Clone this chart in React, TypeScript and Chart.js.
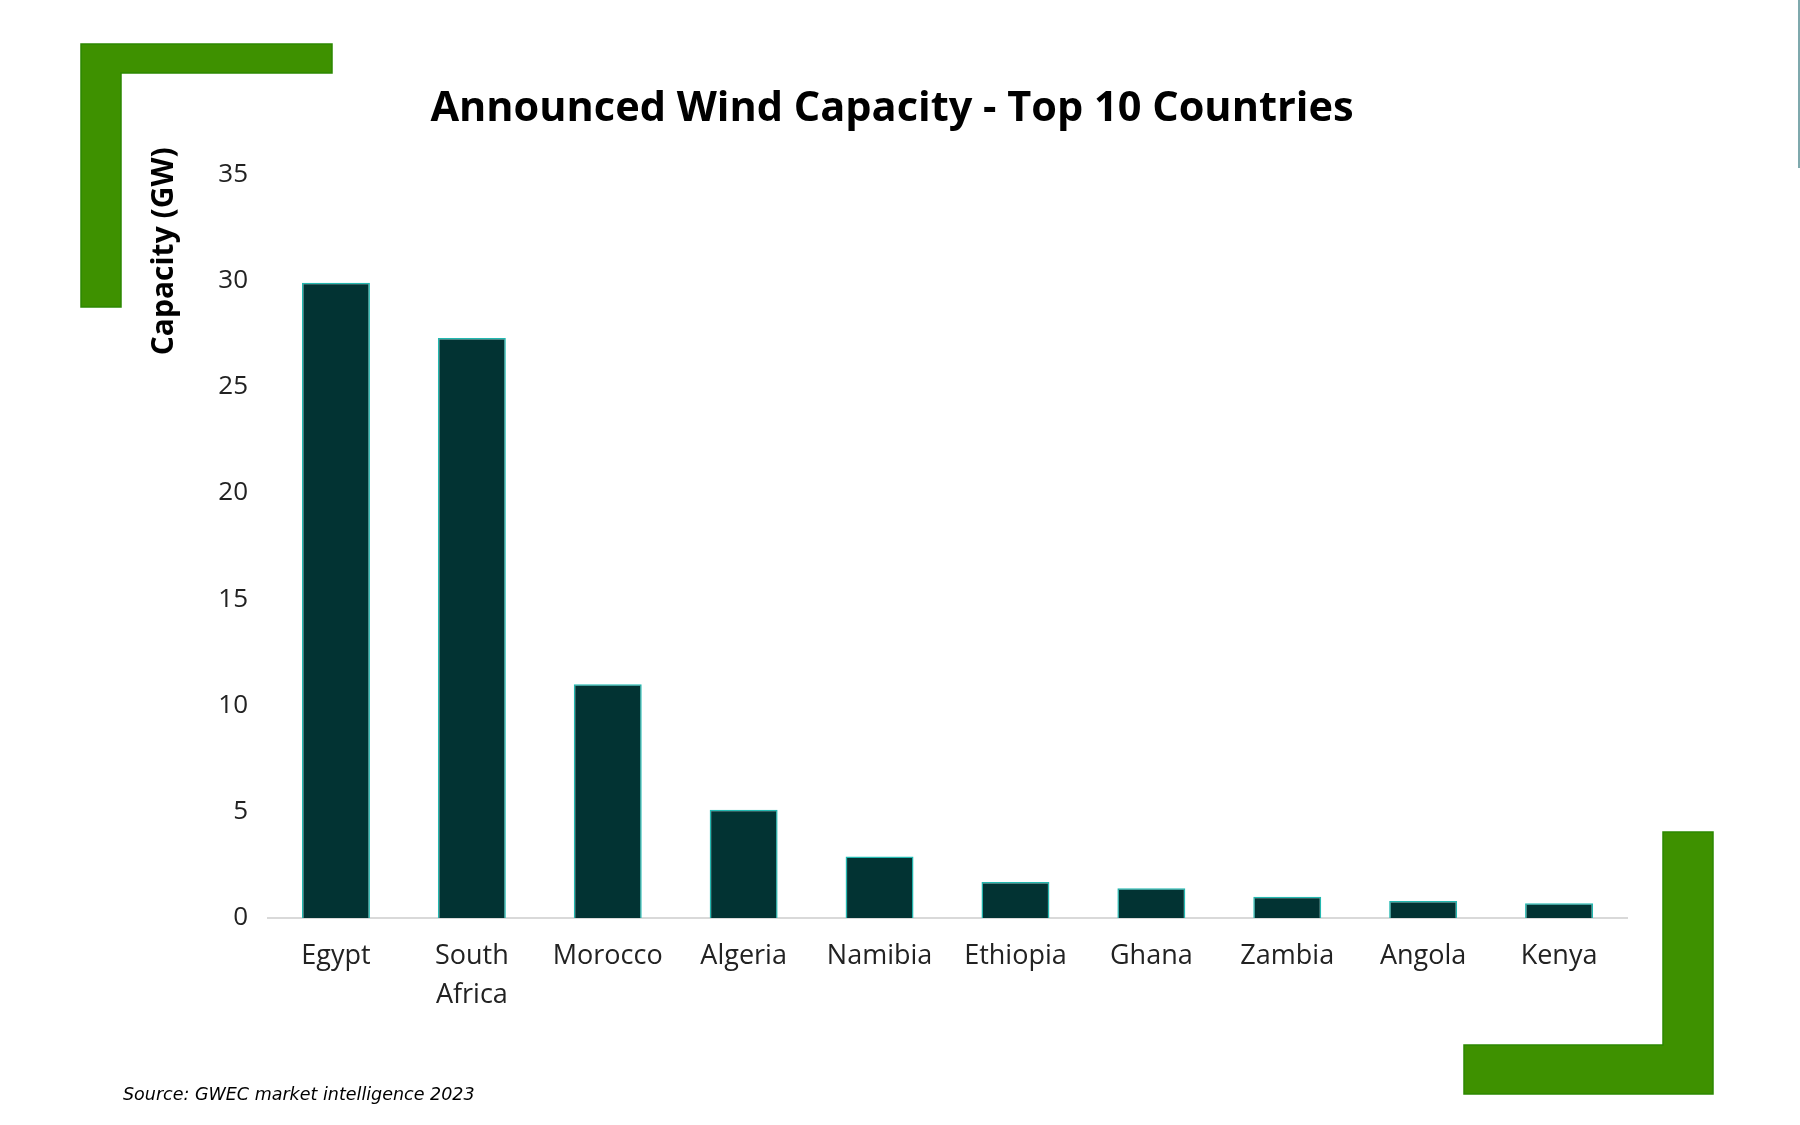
import React, { useEffect, useRef } from "react";
import { Chart, registerables } from "chart.js";

Chart.register(...registerables);

const TITLE = "Announced Wind Capacity - Top 10 Countries";
const Y_TITLE = "Capacity (GW)";
const SOURCE = "Source: GWEC market intelligence 2023";

const countries: (string | string[])[] = [
  "Egypt",
  ["South", "Africa"],
  "Morocco",
  "Algeria",
  "Namibia",
  "Ethiopia",
  "Ghana",
  "Zambia",
  "Angola",
  "Kenya",
];
const capacityGW = [29.9, 27.3, 11.0, 5.1, 2.9, 1.7, 1.4, 1.0, 0.8, 0.7];
const yMin = 0;
const yMax = 35;
const yStep = 5;

const FONT = '"Open Sans", sans-serif';
const SOURCE_FONT = '"DejaVu Sans", sans-serif';

const decorPlugin = {
  id: "decor",
  afterDraw(chart: any) {
    const ctx = chart.ctx as CanvasRenderingContext2D;
    const area = chart.chartArea;
    const poly = (pts: number[][]) => {
      ctx.beginPath();
      pts.forEach(([x, y], i) => (i === 0 ? ctx.moveTo(x, y) : ctx.lineTo(x, y)));
      ctx.closePath();
      ctx.fill();
      ctx.stroke();
    };
    ctx.save();
    ctx.fillStyle = "#3e9100";
    ctx.strokeStyle = "#2c8800";
    ctx.lineWidth = 1.5;
    poly([
      [81, 44],
      [332, 44],
      [332, 73],
      [121, 73],
      [121, 307],
      [81, 307],
    ]);
    poly([
      [1663, 832],
      [1713, 832],
      [1713, 1094],
      [1464, 1094],
      [1464, 1045],
      [1663, 1045],
    ]);
    // faint edge line at top right
    ctx.strokeStyle = "#7fa9ad";
    ctx.lineWidth = 2;
    ctx.beginPath();
    ctx.moveTo(1799, 0);
    ctx.lineTo(1799, 168);
    ctx.stroke();
    ctx.restore();

    // y axis title, placed near the top of the axis
    ctx.save();
    ctx.translate(area.left - 95, area.top + 181);
    ctx.rotate(-Math.PI / 2);
    ctx.font = `bold 30px ${FONT}`;
    ctx.fillStyle = "#000";
    ctx.textAlign = "left";
    ctx.textBaseline = "alphabetic";
    ctx.fillText(Y_TITLE, 0, 0);
    ctx.restore();

    // source note
    ctx.save();
    ctx.font = `oblique 17.5px ${SOURCE_FONT}`;
    ctx.fillStyle = "#000";
    ctx.textAlign = "left";
    ctx.textBaseline = "alphabetic";
    ctx.fillText(SOURCE, 123, 1100);
    ctx.restore();
  },
};

export default function App() {
  const canvasRef = useRef<HTMLCanvasElement | null>(null);

  useEffect(() => {
    document.body.style.margin = "0";
    let chart: Chart | null = null;
    let cancelled = false;
    const make = () => {
      if (cancelled || !canvasRef.current) return;
      chart = new Chart(canvasRef.current, {
        type: "bar",
        data: {
          labels: countries as any,
          datasets: [
            {
              data: capacityGW,
              backgroundColor: "#023333",
              borderColor: "#22b8b0",
              borderWidth: 1.5,
              barPercentage: 0.5,
              categoryPercentage: 1,
            },
          ],
        },
        options: {
          responsive: false,
          animation: false,
          layout: { padding: { left: 157, right: 173, top: 0, bottom: 107 } },
          plugins: {
            legend: { display: false },
            tooltip: { enabled: false },
            title: {
              display: true,
              text: TITLE,
              color: "#000",
              font: { family: FONT, size: 41.5, weight: "bold", lineHeight: 1.2 },
              padding: { top: 84, bottom: 40.5 },
            },
          },
          scales: {
            x: {
              grid: { display: false, drawTicks: false },
              border: { display: true, color: "#d9d9d9", width: 2 },
              ticks: {
                color: "#222",
                font: { family: FONT, size: 27, lineHeight: 1.45 },
                padding: 19,
                maxRotation: 0,
                autoSkip: false,
              },
              afterFit: (s: any) => {
                s.height = 100;
              },
            },
            y: {
              min: yMin,
              max: yMax,
              grid: { display: false, drawTicks: false },
              border: { display: false },
              ticks: {
                stepSize: yStep,
                color: "#222",
                font: { family: FONT, size: 26 },
                padding: 20,
              },
              afterFit: (s: any) => {
                s.width = 111;
              },
            },
          },
        },
        plugins: [decorPlugin],
      });
    };
    const fonts = (document as any).fonts;
    if (fonts && fonts.load) {
      Promise.all([
        fonts.load(`bold 42px ${FONT}`),
        fonts.load(`27px ${FONT}`),
        fonts.load(`oblique 18px ${SOURCE_FONT}`),
      ])
        .catch(() => null)
        .then(make);
    } else {
      make();
    }
    return () => {
      cancelled = true;
      if (chart) chart.destroy();
    };
  }, []);

  return (
    <div style={{ position: "fixed", left: 0, top: 0, width: 1800, height: 1125, background: "#fff" }}>
      <canvas ref={canvasRef} width={1800} height={1125} style={{ display: "block" }} />
    </div>
  );
}
